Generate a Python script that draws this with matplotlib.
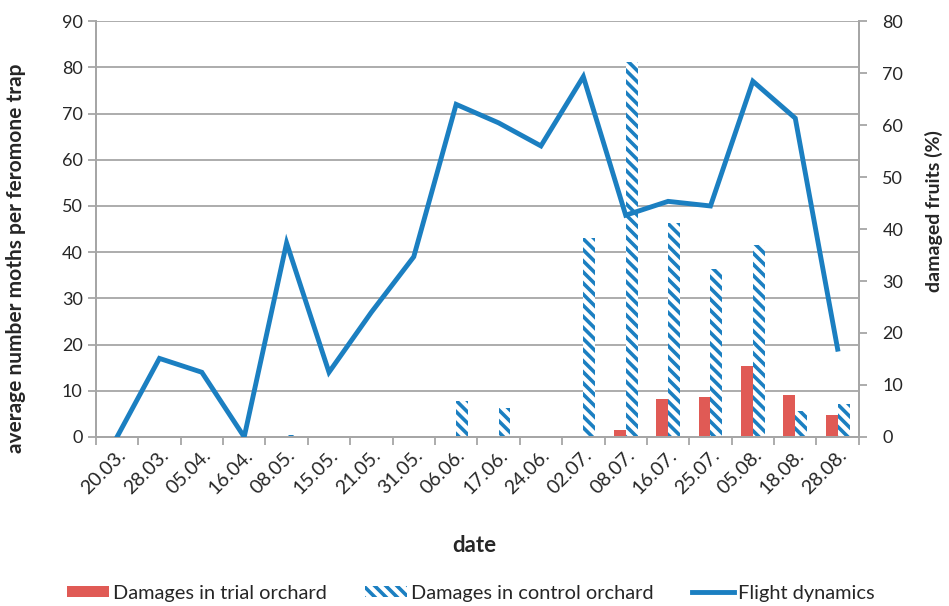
import numpy as np
import matplotlib
matplotlib.use("Agg")
import matplotlib.pyplot as plt
from matplotlib.patches import Patch
from matplotlib.lines import Line2D

dates = ["20.03.", "28.03.", "05.04.", "16.04.", "08.05.", "15.05.", "21.05.",
         "31.05.", "06.06.", "17.06.", "24.06.", "02.07.", "08.07.", "16.07.",
         "25.07.", "05.08.", "18.08.", "28.08."]
flight = [0, 17, 14, 0, 42, 14, 27, 39, 72, 68, 63, 78, 48, 51, 50, 77, 69, 19]
trial = [0, 0, 0, 0, 0, 0, 0, 0, 0, 0, 0, 0, 1.3, 7.3, 7.7, 13.7, 8.1, 4.2]
control = [0, 0, 0, 0, 0.3, 0, 0, 0, 6.9, 5.5, 0, 38.3, 72.2, 41.2, 32.3, 36.9, 5.0, 6.3]

RED = "#E05A55"
BLUE = "#1B7FC1"
GRID = "#A6A6A6"
TXT = "#262626"

plt.rcParams["font.family"] = ["Lato", "DejaVu Sans"]
plt.rcParams["hatch.linewidth"] = 2.6

fig = plt.figure(figsize=(9.49, 6.06), dpi=100)
ax = fig.add_axes([0.101, 0.279, 0.804, 0.686])
ax2 = ax.twinx()
ax.set_zorder(2)
ax2.set_zorder(1)
ax.patch.set_visible(False)

x = np.arange(len(dates))
w = 0.28

# horizontal grid (left axis values) drawn behind the bars
for v in range(10, 91, 10):
    ax2.plot([0, 1], [v, v], color=GRID, lw=1.3, zorder=0,
             transform=ax.get_yaxis_transform())

ax2.bar(x - w / 2, trial, w, color=RED, lw=0, zorder=2)
ax2.bar(x + w / 2, control, w, facecolor="white", edgecolor=BLUE, hatch="\\\\\\",
        lw=0, zorder=2)
ax.plot(x, flight, color=BLUE, lw=3.5, solid_joinstyle="miter", zorder=3)

ax.set_xlim(-0.5, len(dates) - 0.5)
ax.set_ylim(0, 90)
ax2.set_ylim(0, 80)
ax.set_yticks(range(0, 91, 10))
ax2.set_yticks(range(0, 81, 10))

ax.set_xticks(np.arange(len(dates) + 1) - 0.5)
ax.set_xticklabels([])
ax.set_xticks(x, minor=True)
ax.set_xticklabels(dates, minor=True, rotation=45, ha="right",
                   rotation_mode="anchor", fontsize=14, color=TXT)
ax.tick_params(axis="x", which="minor", length=0, pad=7)
ax.tick_params(axis="x", which="major", length=6, color=GRID, width=1.3)
ax.tick_params(axis="y", length=6, color=GRID, width=1.3, labelsize=13,
               labelcolor=TXT)
ax2.tick_params(axis="y", length=6, color=GRID, width=1.3, labelsize=13,
                labelcolor=TXT, pad=11)

for a in (ax, ax2):
    a.spines["top"].set_visible(False)
    for s in ("left", "right", "bottom"):
        a.spines[s].set_color(GRID)
        a.spines[s].set_linewidth(1.3)

ax.set_ylabel("average number moths per feromone trap", fontsize=15,
              fontweight="bold", color=TXT)
ax.yaxis.set_label_coords(-0.092, 0.43)
ax2.set_ylabel("damaged fruits (%)", fontsize=14, fontweight="bold", color=TXT)
ax2.yaxis.set_label_coords(1.086, 0.543)
fig.text(0.5, 0.10, "date", ha="center", va="center", fontsize=16,
         fontweight="bold", color=TXT)

handles = [Patch(facecolor=RED, lw=0),
           Patch(facecolor="white", edgecolor=BLUE, hatch="\\\\\\", lw=0),
           Line2D([], [], color=BLUE, lw=3.5)]
labels = ["Damages in trial orchard", "Damages in control orchard", "Flight dynamics"]
fig.legend(handles, labels, loc="center", bbox_to_anchor=(0.496, 0.021), ncol=3,
           frameon=False, fontsize=14.4, handlelength=2.1, handleheight=0.5,
           handletextpad=0.2, columnspacing=1.9, labelcolor=TXT)

fig.savefig("out.png", dpi=100)
